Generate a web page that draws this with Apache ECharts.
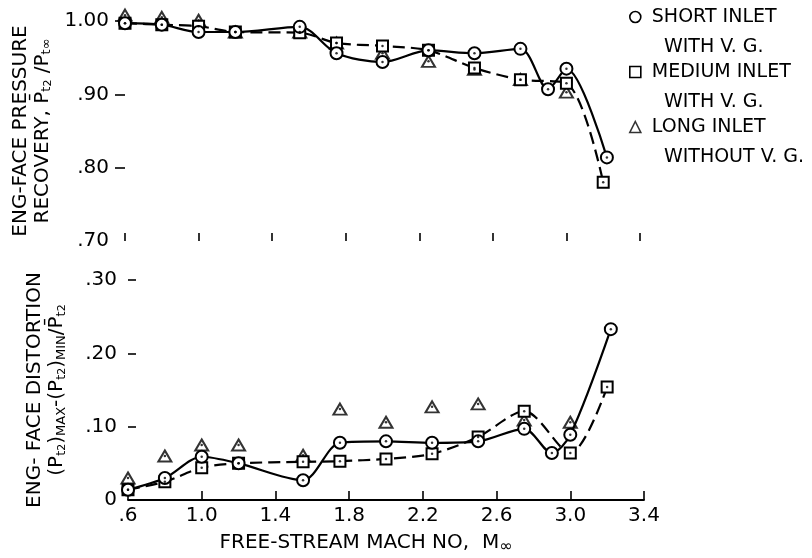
<!DOCTYPE html>
<html>
<head>
<meta charset="utf-8">
<script src="https://cdn.jsdelivr.net/npm/echarts@6/dist/echarts.min.js"></script>
<style>
  html, body { margin: 0; background: #fff; }
  #chart { width: 812px; height: 558px; }
</style>
</head>
<body>
<div id="chart"></div>
<script>
const machTicks = [0.6, 1.0, 1.4, 1.8, 2.2, 2.6, 3.0, 3.4];
const machTickLabels = ['.6', '1.0', '1.4', '1.8', '2.2', '2.6', '3.0', '3.4'];
const recoveryTicks = [0.7, 0.8, 0.9, 1.0];
const recoveryTickLabels = ['.70', '.80', '.90', '1.00'];
const distortionTicks = [0, 0.1, 0.2, 0.3];
const distortionTickLabels = ['0', '.10', '.20', '.30'];

// short inlet with V.G. (circles, solid)
const machShort = [0.6, 0.8, 1.0, 1.2, 1.55, 1.75, 2.0, 2.25, 2.5, 2.75, 2.9, 3.0, 3.22];
const recoveryShort = [0.997, 0.995, 0.985, 0.985, 0.992, 0.956, 0.944, 0.960, 0.956, 0.962, 0.907, 0.935, 0.814];
const distortionShort = [0.014, 0.030, 0.059, 0.050, 0.027, 0.078, 0.080, 0.078, 0.080, 0.097, 0.064, 0.089, 0.233];

// medium inlet with V.G. (squares, dashed)
const machMedium = [0.6, 0.8, 1.0, 1.2, 1.55, 1.75, 2.0, 2.25, 2.5, 2.75, 3.0, 3.2];
const recoveryMedium = [0.997, 0.995, 0.993, 0.985, 0.984, 0.970, 0.966, 0.960, 0.936, 0.920, 0.915, 0.780];
const distortionMedium = [0.014, 0.025, 0.044, 0.050, 0.052, 0.053, 0.056, 0.063, 0.086, 0.121, 0.064, 0.154];

// long inlet without V.G. (triangles, no line)
const machLong = [0.6, 0.8, 1.0, 1.2, 1.55, 1.75, 2.0, 2.25, 2.5, 2.75, 3.0];
const recoveryLong = [1.008, 1.005, 1.001, 0.985, 0.985, 0.970, 0.956, 0.945, 0.934, 0.920, 0.903];
const distortionLong = [0.030, 0.060, 0.075, 0.075, 0.061, 0.124, 0.106, 0.127, 0.131, 0.109, 0.106];

const legendNames = ['SHORT INLET', 'MEDIUM INLET', 'LONG INLET'];
const legendSubNames = ['WITH V. G.', 'WITH V. G.', 'WITHOUT V. G.'];

const font = 'DejaVu Sans';
const ink = '#000';

const pairs = (xs, ys) => xs.map((x, i) => [x, ys[i]]);
const pick = (ticks, labels) => (v) => labels[ticks.findIndex((t) => Math.abs(t - v) < 1e-6)] || '';

const subRich = {
  a: { fontFamily: font, fontSize: 20, color: ink, lineHeight: 22 },
  s: { fontFamily: font, fontSize: 13, color: ink, lineHeight: 10, verticalAlign: 'bottom' },
  ss: { fontFamily: font, fontSize: 11, color: ink, lineHeight: 6, verticalAlign: 'bottom' },
};

const chart = echarts.init(document.getElementById('chart'));

const makeSeries = (gridIndex, ys) => {
  const [yShort, yMedium, yLong] = ys;
  const base = { xAxisIndex: gridIndex, yAxisIndex: gridIndex, clip: false };
  const hollow = { color: '#fff', borderColor: ink, borderWidth: 2 };
  const dots = (xs, yv) => ({
    ...base,
    type: 'scatter',
    data: pairs(xs, yv),
    symbol: 'circle',
    symbolSize: 2.5,
    itemStyle: { color: ink },
    silent: true,
    z: 6,
  });
  return [
    {
      ...base,
      name: legendNames[0],
      type: 'line',
      data: pairs(machShort, yShort),
      smooth: 0.3,
      symbol: 'circle',
      symbolSize: 12,
      lineStyle: { color: ink, width: 2.2 },
      itemStyle: hollow,
      z: 4,
    },
    {
      ...base,
      name: legendNames[1],
      type: 'line',
      data: pairs(machMedium, yMedium),
      smooth: 0.3,
      symbol: 'rect',
      symbolSize: 11,
      lineStyle: { color: ink, width: 2.2, type: [12, 6] },
      itemStyle: hollow,
      z: 3,
    },
    {
      ...base,
      name: legendNames[2],
      type: 'scatter',
      data: pairs(machLong, yLong),
      symbol: 'triangle',
      symbolSize: [13, 11],
      itemStyle: hollow,
      z: 2,
    },
    dots(machShort, yShort),
    dots(machMedium, yMedium),
    dots(machLong, yLong),
  ];
};

const option = {
  animation: false,
  backgroundColor: '#fff',
  textStyle: { fontFamily: font, color: ink },
  grid: [
    { left: 125, top: 21, width: 515, height: 220 },
    { left: 128, top: 280, width: 516, height: 220 },
  ],
  legend: {
    orient: 'vertical',
    left: 629,
    top: -28,
    padding: 0,
    itemWidth: 11,
    itemHeight: 11,
    itemGap: -35,
    selectedMode: false,
    data: [
      { name: legendNames[0], icon: 'circle' },
      { name: legendNames[1], icon: 'rect' },
      { name: legendNames[2], icon: 'triangle' },
    ],
    itemStyle: { color: '#fff', borderColor: ink, borderWidth: 1.6 },
    // leading empty line keeps the icon level with the first text line
    formatter: (name) => '\n' + name + '\n  ' + legendSubNames[legendNames.indexOf(name)],
    textStyle: {
      fontFamily: font,
      fontSize: 19,
      color: ink,
      lineHeight: 30,
      padding: [0, 0, 0, 6],
    },
  },
  xAxis: [
    {
      gridIndex: 0,
      type: 'value',
      min: 0.6,
      max: 3.4,
      axisLine: { show: false },
      axisTick: {
        show: true,
        inside: true,
        length: 8,
        customValues: machTicks,
        lineStyle: { color: ink, width: 1.6 },
      },
      axisLabel: { show: false },
      splitLine: { show: false },
    },
    {
      gridIndex: 1,
      type: 'value',
      min: 0.6,
      max: 3.4,
      axisLine: { show: true, lineStyle: { color: ink, width: 1.8 } },
      axisTick: {
        show: true,
        inside: true,
        length: 9,
        customValues: machTicks,
        lineStyle: { color: ink, width: 1.6 },
      },
      axisLabel: {
        customValues: machTicks,
        formatter: pick(machTicks, machTickLabels),
        fontFamily: font,
        fontSize: 20,
        color: ink,
        margin: 6,
      },
      splitLine: { show: false },
      name: '{a|FREE-STREAM MACH NO,  M}{s|\u221e}',
      nameLocation: 'middle',
      nameGap: 31,
      nameTextStyle: {
        padding: [0, 40, 0, 0],
        rich: {
          a: { fontFamily: font, fontSize: 20, color: ink, lineHeight: 24 },
          s: { fontFamily: font, fontSize: 16, color: ink, lineHeight: 14, verticalAlign: 'bottom' },
        },
      },
    },
  ],
  yAxis: [
    {
      gridIndex: 0,
      type: 'value',
      min: 0.7,
      max: 1.0,
      axisLine: { show: false },
      axisTick: {
        show: true,
        length: 10,
        customValues: [0.8, 0.9, 1.0],
        lineStyle: { color: ink, width: 1.6 },
      },
      axisLabel: {
        customValues: recoveryTicks,
        formatter: pick(recoveryTicks, recoveryTickLabels),
        fontFamily: font,
        fontSize: 20,
        color: ink,
        margin: 16,
      },
      splitLine: { show: false },
      name: '{a|ENG-FACE PRESSURE}\n{a|RECOVERY, P\u0304}{s|t}{ss|2}{a| /P}{s|t\u221e}',
      nameLocation: 'middle',
      nameRotate: 90,
      nameGap: 60,
      nameTextStyle: { rich: subRich },
    },
    {
      gridIndex: 1,
      type: 'value',
      min: 0,
      max: 0.3,
      axisLine: { show: false },
      axisTick: {
        show: true,
        inside: true,
        length: 8,
        customValues: [0.1, 0.2, 0.3],
        lineStyle: { color: ink, width: 1.6 },
      },
      axisLabel: {
        customValues: distortionTicks,
        formatter: pick(distortionTicks, distortionTickLabels),
        fontFamily: font,
        fontSize: 20,
        color: ink,
        margin: 11,
      },
      splitLine: { show: false },
      name: '{a|ENG- FACE DISTORTION}\n{a|(P}{s|t}{ss|2}{a|)}{s|MAX}{a|-(P}{s|t}{ss|2}{a|)}{s|MIN}{a|/P\u0304}{s|t}{ss|2}',
      nameLocation: 'middle',
      nameRotate: 90,
      nameGap: 60,
      nameTextStyle: { rich: subRich },
    },
  ],
  series: [
    ...makeSeries(0, [recoveryShort, recoveryMedium, recoveryLong]),
    ...makeSeries(1, [distortionShort, distortionMedium, distortionLong]),
  ],
};

chart.setOption(option);
window.addEventListener('resize', () => chart.resize());
</script>
</body>
</html>
